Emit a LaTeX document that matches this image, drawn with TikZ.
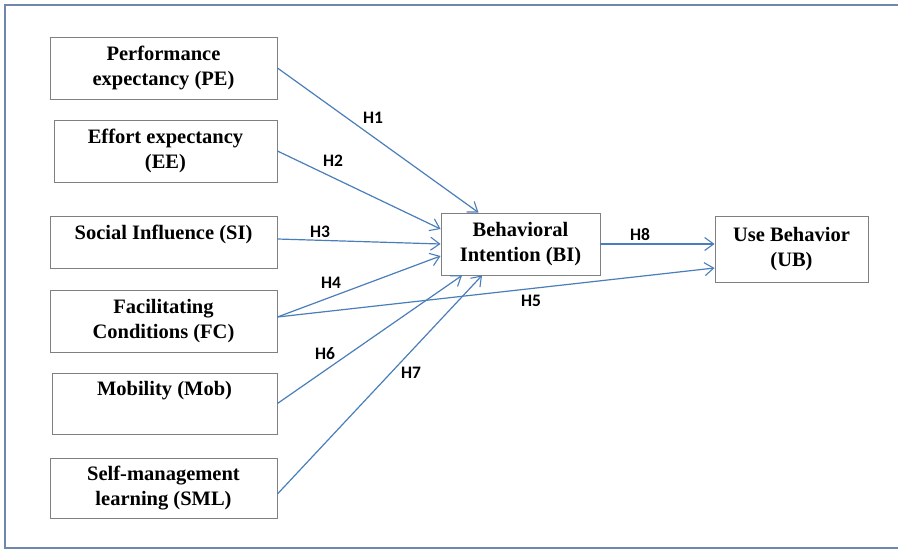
\documentclass[tikz,border=0pt]{standalone}
\usepackage{fontspec}
\setmainfont{Liberation Serif}
\newfontfamily\labelfont{Carlito}
\usetikzlibrary{arrows.meta,calc}
\definecolor{arrowblue}{RGB}{74,126,187}
\definecolor{framecol}{RGB}{110,135,170}
\definecolor{boxgray}{RGB}{128,128,128}
\tikzset{
  cbox/.style={draw=boxgray, line width=0.9pt, align=center, inner sep=2pt,
    font=\fontsize{20.5}{25}\selectfont\bfseries},
  conn/.style={draw=arrowblue, line width=1.2pt, -{Straight Barb[length=9pt,width=13pt,line width=1.1pt]}},
  hlab/.style={font=\labelfont\fontsize{17.5}{19}\selectfont\bfseries, inner sep=0pt}
}
\begin{document}
\begin{tikzpicture}[x=1pt,y=-1pt]
\useasboundingbox (0,0) rectangle (898,554);
\draw[framecol, line width=1.3pt] (900,5) -- (5,5) -- (5,548) -- (900,548);

\node[cbox, minimum width=227pt, minimum height=62pt] (PE) at (163.5,68) {Performance\\expectancy (PE)};
\node[cbox, minimum width=223pt, minimum height=62pt] (EE) at (165.5,151) {Effort expectancy\\(EE)};
\node[cbox, minimum width=227pt, minimum height=52pt, text depth=19pt] (SI) at (163.5,242) {Social Influence (SI)};
\node[cbox, minimum width=227pt, minimum height=62pt] (FC) at (163.5,321) {Facilitating\\Conditions (FC)};
\node[cbox, minimum width=225pt, minimum height=61pt, text depth=31pt] (MOB) at (164.5,403.5) {Mobility (Mob)};
\node[cbox, minimum width=227pt, minimum height=60pt] (SML) at (163.5,488) {Self-management\\learning (SML)};
\node[cbox, minimum width=159pt, minimum height=62pt] (BI) at (520.5,244) {Behavioral\\Intention (BI)};
\node[cbox, minimum width=153pt, minimum height=66pt] (UB) at (791.5,249) {Use Behavior\\(UB)};

\draw[conn] (PE.east) -- ([xshift=-42pt]BI.north);
\draw[conn] (EE.east) -- ([yshift=15pt]BI.west);
\draw[conn] ([yshift=3pt]SI.east) -- (BI.west);
\draw[conn] ([yshift=4pt]FC.east) -- ([yshift=-12pt]BI.west);
\draw[conn] ([yshift=4pt]FC.east) -- ([yshift=-19pt]UB.west);
\draw[conn] (MOB.east) -- ([xshift=-58.5pt]BI.south);
\draw[conn] ([yshift=-6pt]SML.east) -- ([xshift=-38.5pt]BI.south);
\draw[conn] (BI.east) -- (BI.east -| UB.west);

\node[hlab] (H1) at (373,118) {H1};
\node[hlab] (H2) at (333,161) {H2};
\node[hlab] (H3) at (320,232) {H3};
\node[hlab] (H4) at (331,283) {H4};
\node[hlab] (H5) at (531,301) {H5};
\node[hlab] (H6) at (325,354) {H6};
\node[hlab] (H7) at (411,373) {H7};
\node[hlab] (H8) at (640,235) {H8};
\end{tikzpicture}
\end{document}
